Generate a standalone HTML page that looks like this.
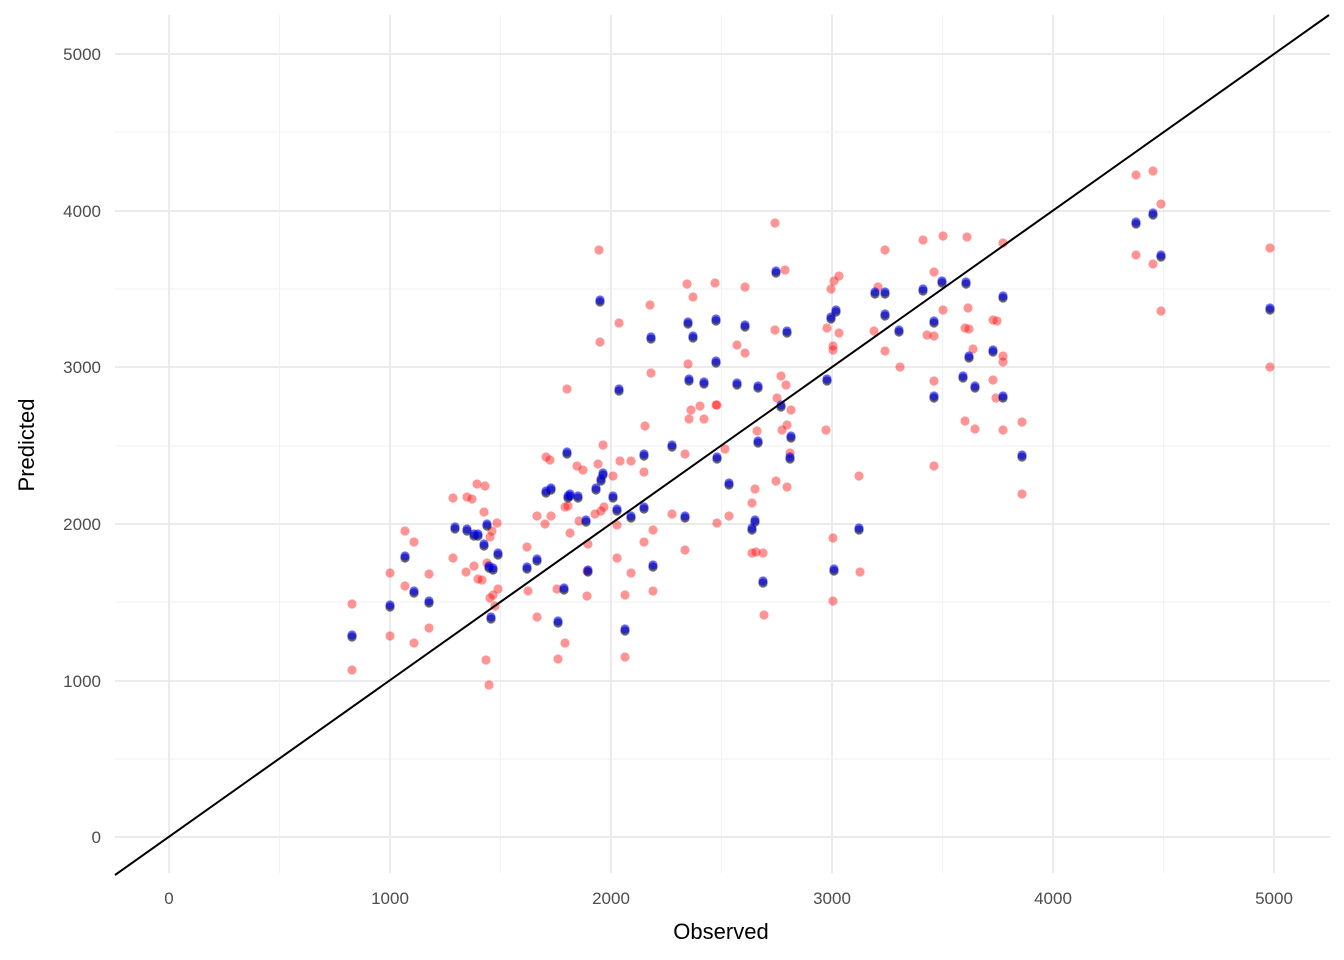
<!DOCTYPE html>
<html><head><meta charset="utf-8"><style>body{margin:0;background:#fff}svg{display:block}text{font-family:"Liberation Sans",Arial,sans-serif}</style></head><body>
<svg width="1344" height="960" xmlns="http://www.w3.org/2000/svg">
<g stroke="#f2f2f2" stroke-width="1">
<line x1="115" x2="1330" y1="759" y2="759"/><line x1="115" x2="1330" y1="602" y2="602"/><line x1="115" x2="1330" y1="446" y2="446"/><line x1="115" x2="1330" y1="289" y2="289"/><line x1="115" x2="1330" y1="132" y2="132"/>
<line y1="15" y2="873" x1="279.5" x2="279.5"/><line y1="15" y2="873" x1="500.5" x2="500.5"/><line y1="15" y2="873" x1="721.5" x2="721.5"/><line y1="15" y2="873" x1="942.5" x2="942.5"/><line y1="15" y2="873" x1="1163.5" x2="1163.5"/>
</g>
<g stroke="#ebebeb" stroke-width="2">
<line x1="115" x2="1330" y1="837" y2="837"/><line x1="115" x2="1330" y1="681" y2="681"/><line x1="115" x2="1330" y1="524" y2="524"/><line x1="115" x2="1330" y1="367" y2="367"/><line x1="115" x2="1330" y1="211" y2="211"/><line x1="115" x2="1330" y1="54" y2="54"/>
<line y1="15" y2="873" x1="169" x2="169"/><line y1="15" y2="873" x1="390" x2="390"/><line y1="15" y2="873" x1="611" x2="611"/><line y1="15" y2="873" x1="832" x2="832"/><line y1="15" y2="873" x1="1053" x2="1053"/><line y1="15" y2="873" x1="1274" x2="1274"/>
</g>
<g id="r" fill="#ff0000" fill-opacity="0.42"></g>
<g id="k" fill="#000" fill-opacity="0.6"></g>
<g id="b" fill="#0000ff" fill-opacity="0.6"></g>
<line x1="115" y1="875" x2="1329" y2="15" stroke="#000" stroke-width="2"/>
<g fill="#4d4d4d" font-size="17" text-anchor="middle">
<text x="169" y="904">0</text><text x="390" y="904">1000</text><text x="611" y="904">2000</text><text x="832" y="904">3000</text><text x="1053" y="904">4000</text><text x="1274" y="904">5000</text>
</g>
<g fill="#4d4d4d" font-size="17" text-anchor="end">
<text x="101" y="843">0</text><text x="101" y="687">1000</text><text x="101" y="530">2000</text><text x="101" y="373">3000</text><text x="101" y="217">4000</text><text x="101" y="60">5000</text>
</g>
<text x="721" y="939" font-size="22" text-anchor="middle">Observed</text>
<text transform="translate(34,445) rotate(-90)" font-size="22" text-anchor="middle">Predicted</text>
</svg>
<script>
var R=[[352,604],[352,670],[390,573],[390,636],[405,531],[405,586],[414,542],[414,643],[429,574],[429,628],[453,498],[453,558],[466,572],[467,497],[472,499],[474,566],[477,484],[478,579],[482,580],[484,512],[485,486],[486,660],[487,563],[489,685],[490,537],[490,598],[492,531],[493,595],[495,606],[497,523],[498,589],[527,547],[528,591],[537,516],[537,617],[545,524],[546,457],[550,460],[551,516],[557,589],[558,659],[565,507],[565,643],[567,389],[568,506],[570,533],[577,466],[579,521],[583,470],[587,571],[587,596],[588,544],[595,514],[598,464],[599,250],[600,342],[601,511],[603,445],[604,507],[613,476],[617,558],[617,525],[619,323],[620,461],[625,595],[625,657],[631,461],[631,573],[644,472],[644,542],[645,426],[650,305],[651,373],[653,530],[653,591],[672,514],[685,454],[685,550],[687,284],[688,364],[689,419],[691,410],[693,297],[700,406],[704,419],[715,283],[716,405],[717,523],[717,405],[725,449],[729,516],[737,345],[745,287],[745,353],[752,503],[752,553],[755,489],[756,552],[757,431],[763,553],[764,615],[775,223],[775,330],[776,481],[777,398],[781,376],[782,430],[785,270],[786,385],[787,425],[787,487],[790,453],[791,410],[826,430],[827,328],[831,289],[833,346],[833,350],[833,538],[833,601],[834,281],[839,333],[839,276],[859,476],[860,572],[874,331],[878,287],[885,250],[885,351],[900,367],[923,240],[927,335],[934,272],[934,381],[934,466],[934,336],[943,236],[943,310],[965,421],[965,328],[967,237],[968,308],[969,329],[973,349],[975,429],[993,380],[993,320],[996,398],[997,321],[1003,356],[1003,362],[1003,243],[1003,430],[1022,422],[1022,494],[1136,175],[1136,255],[1153,171],[1153,264],[1161,204],[1161,311],[1270,248],[1270,367]];
var B=[[352,636],[390,606],[405,557],[414,592],[429,602],[455,528],[467,530],[474,535],[478,535],[484,545],[487,525],[489,567],[491,618],[498,554],[493,569],[527,568],[537,560],[546,492],[551,489],[558,622],[564,589],[567,453],[568,497],[570,495],[578,497],[586,521],[588,571],[596,489],[600,301],[601,480],[603,474],[613,497],[617,510],[619,390],[625,630],[631,517],[644,455],[644,508],[651,338],[653,566],[672,446],[685,517],[688,323],[689,380],[693,337],[704,383],[716,320],[717,458],[716,362],[729,484],[737,384],[745,326],[752,529],[755,521],[758,387],[758,442],[763,582],[776,272],[781,406],[787,332],[790,458],[791,437],[827,380],[831,318],[834,570],[836,311],[859,529],[875,293],[885,315],[885,293],[899,331],[923,290],[934,322],[934,397],[942,282],[963,377],[966,283],[969,357],[975,387],[993,351],[1003,297],[1003,397],[1022,456],[1136,223],[1153,214],[1161,256],[1270,309]];
function add(id,a,dy){var g=document.getElementById(id),s='';a.forEach(function(p){s+='<circle cx="'+p[0]+'" cy="'+(p[1]+dy)+'" r="4.6"/>'});g.innerHTML=s;}
add('r',R,0);add('k',B,1);add('b',B,-1);
</script>
</body></html>
